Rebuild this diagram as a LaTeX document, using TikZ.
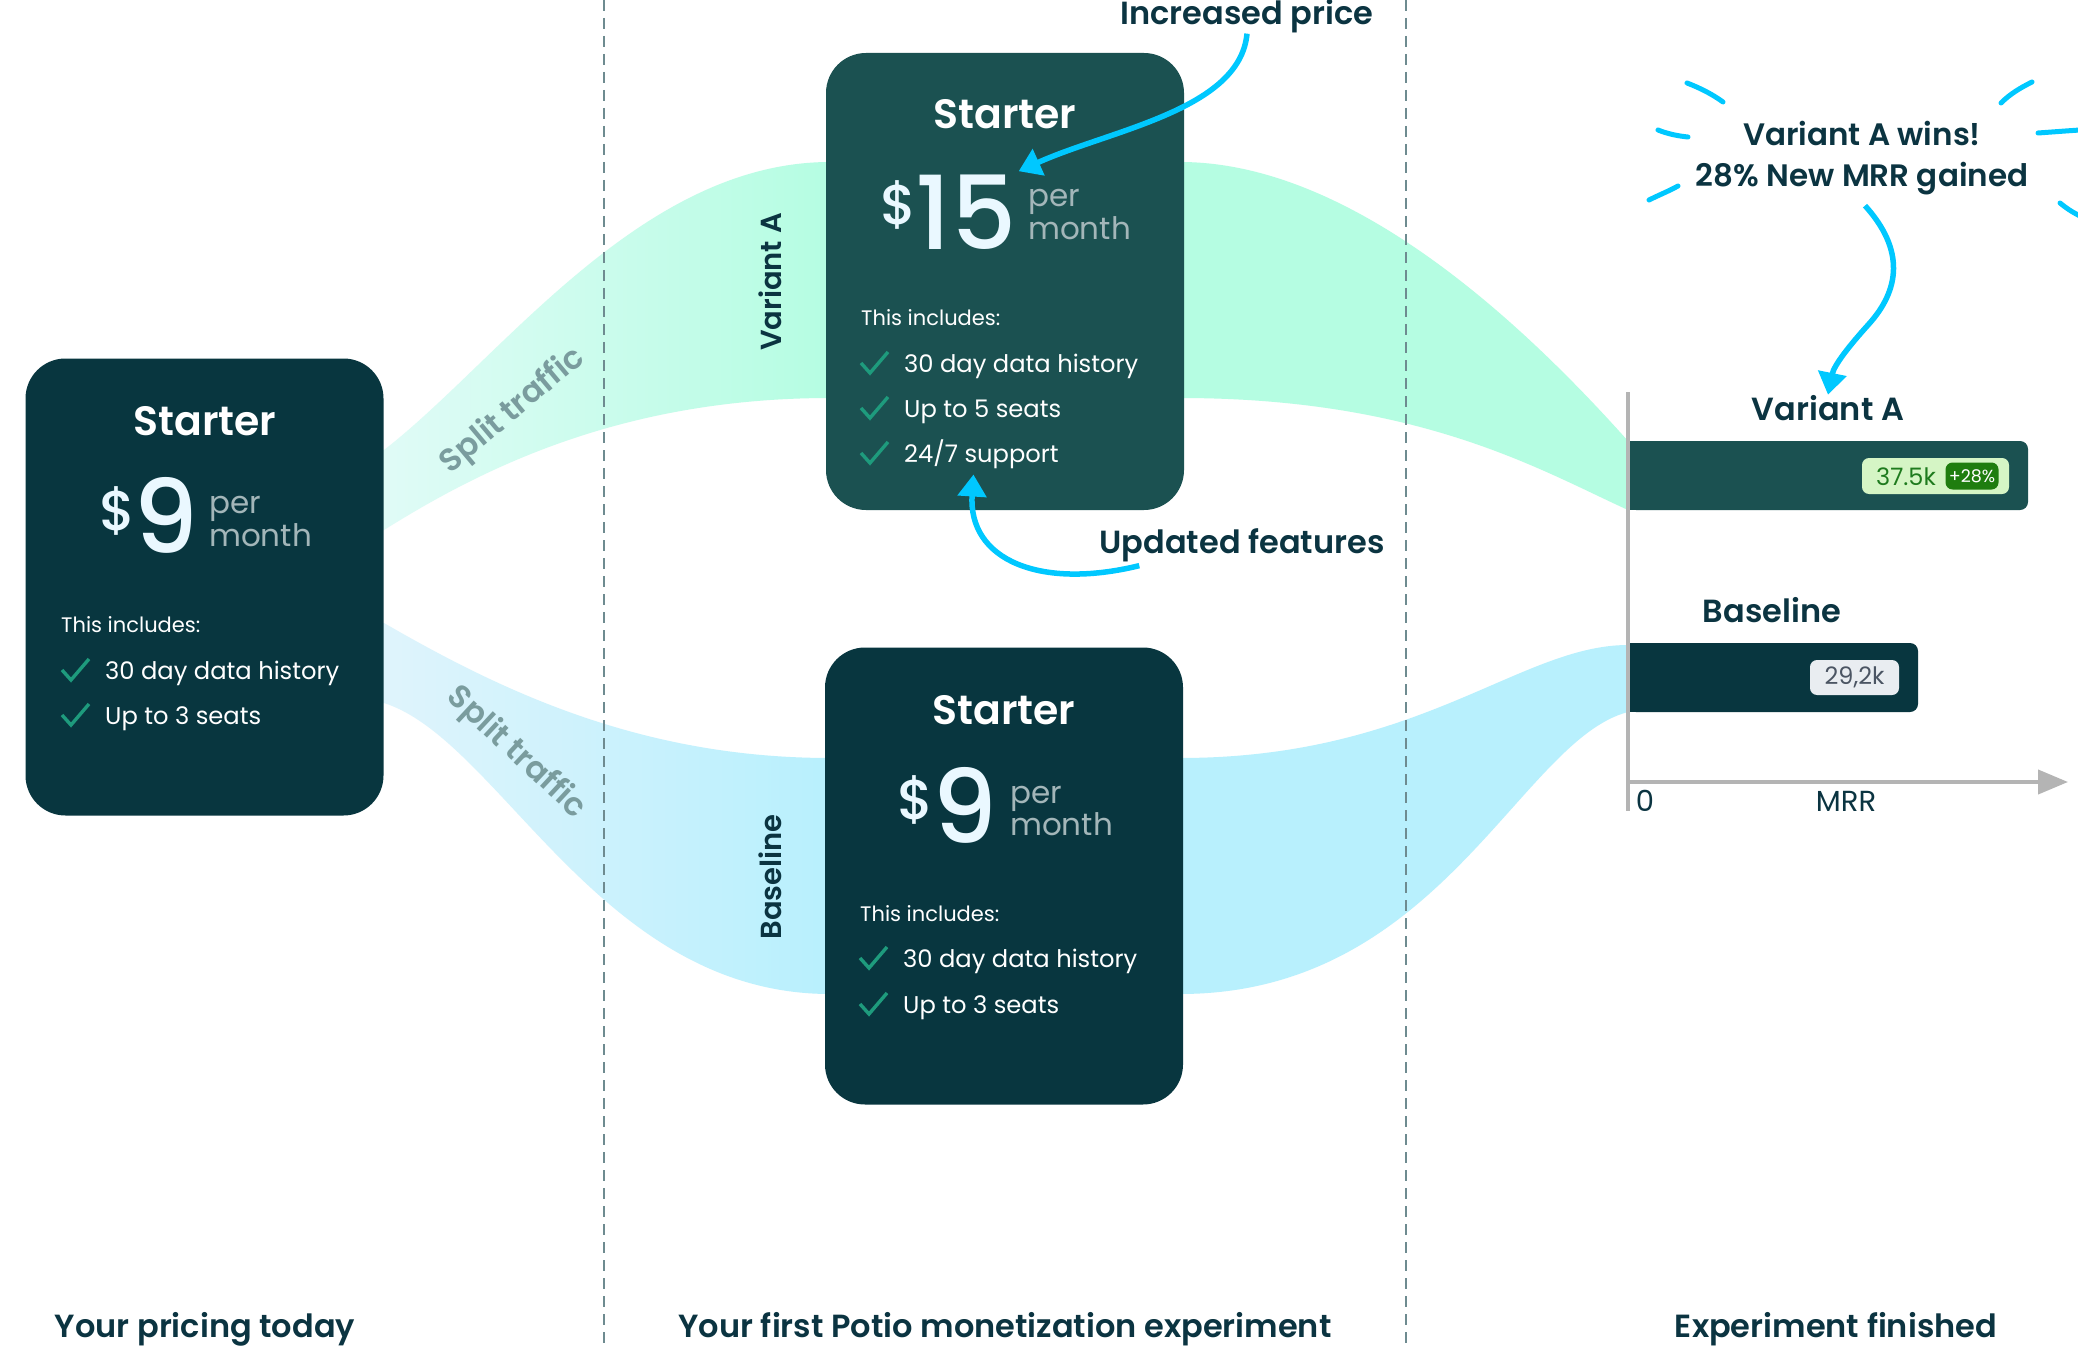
\documentclass[tikz,border=0pt]{standalone}
\usepackage{fontspec}
\setmainfont{Poppins}[BoldFont={* SemiBold}]
\newfontfamily\pricefont{Poppins}[UprightFont={* Medium}]
\usepackage{xcolor}
\usetikzlibrary{arrows.meta,calc}
\definecolor{CardNavy}{HTML}{08363F}
\definecolor{CardTeal}{HTML}{1B5151}
\definecolor{Ink}{HTML}{0B3441}
\definecolor{Mint}{HTML}{B5FDE2}
\definecolor{MintPale}{HTML}{E3FBF8}
\definecolor{Sky}{HTML}{B8F0FD}
\definecolor{SkyPale}{HTML}{E2F4FC}
\definecolor{Cyan}{HTML}{00C8FF}
\definecolor{PerGray}{HTML}{A3B6B9}
\definecolor{NumWhite}{HTML}{EAF8FF}
\definecolor{CheckGreen}{HTML}{1E9B7D}
\definecolor{Divider}{HTML}{6E8B90}
\definecolor{SplitGray}{HTML}{7A9C9E}
\definecolor{AxisGray}{HTML}{B4B4B4}
\definecolor{BadgeGreen}{HTML}{D5F5C5}
\definecolor{BadgeText}{HTML}{1E7B1E}
\definecolor{PillGreen}{HTML}{1F7D0F}
\definecolor{BadgeGray}{HTML}{E9EDF1}
\definecolor{BadgeGrayText}{HTML}{4B5563}
\tikzset{
  card/.style={rounded corners=40pt,minimum width=358pt,minimum height=457pt,inner sep=0pt},
  title/.style={anchor=base,inner sep=0pt,text=white,font=\bfseries\fontsize{41}{48}\selectfont},
  dollar/.style={anchor=base,inner sep=0pt,text=NumWhite,font=\pricefont\fontsize{56}{60}\selectfont},
  amount/.style={anchor=base,inner sep=0pt,text=NumWhite,font=\pricefont\fontsize{102}{100}\selectfont},
  permonth/.style={anchor=base west,inner sep=0pt,text=PerGray,font=\fontsize{31}{32}\selectfont},
  includes/.style={anchor=base west,inner sep=0pt,text=white,font=\fontsize{21}{24}\selectfont},
  feature/.style={anchor=base west,inner sep=0pt,text=white,font=\fontsize{24.2}{30}\selectfont},
  tick/.style={draw=CheckGreen,line width=3.4pt},
  heading/.style={anchor=base,inner sep=0pt,text=Ink,font=\bfseries\fontsize{32}{38}\selectfont},
  sidelabel/.style={rotate=90,inner sep=0pt,text=Ink,font=\bfseries\fontsize{29}{34}\selectfont},
  split/.style={inner sep=0pt,text=SplitGray,font=\bfseries\fontsize{32}{36}\selectfont},
  axislabel/.style={anchor=base,inner sep=0pt,text=Ink,font=\fontsize{29}{34}\selectfont},
  badge/.style={rounded corners=7pt,inner sep=0pt,font=\fontsize{24}{28}\selectfont},
  callout/.style={draw=Cyan,line width=5.5pt,-{Triangle[length=22pt,width=28pt]}},
  burst/.style={draw=Cyan,line width=5pt,line cap=round},
  divider/.style={draw=Divider,line width=2pt,dash pattern=on 11pt off 7pt}
}

\begin{document}
\begin{tikzpicture}[x=1pt,y=-1pt]
  \fill[white] (0,0) rectangle (2078,1348);
  \useasboundingbox (0,0) rectangle (2078,1348);
  % traffic bands
  \shade[left color=MintPale,right color=Mint] (350,450) -- (384,450) .. controls (500,360) and (640,162) .. (830,162)
    -- (830,398) .. controls (620,398) and (480,470) .. (384,530) -- (350,530) -- cycle;
  \shade[left color=SkyPale,right color=Sky] (350,623) -- (384,623) .. controls (500,690) and (640,758) .. (830,758)
    -- (830,994) .. controls (600,994) and (500,740) .. (384,703) -- (350,703) -- cycle;
  \fill[Mint] (1180,162) .. controls (1350,162) and (1520,320) .. (1628,441)
    -- (1628,510) .. controls (1540,470) and (1420,398) .. (1180,398) -- cycle;
  \fill[Sky] (1180,758) .. controls (1420,758) and (1520,645) .. (1628,645)
    -- (1628,712) .. controls (1520,740) and (1440,994) .. (1180,994) -- cycle;
  \draw[divider] (604,0) -- (604,1348);
  \draw[divider] (1406,0) -- (1406,1348);
  \node[split,rotate=40] (splitA) at (513,411) {Split traffic};
  \node[split,rotate=-43] (splitB) at (516,753) {Split traffic};
  \node[sidelabel] (laneA) at (770,282) {Variant A};
  \node[sidelabel] (laneB) at (770,877) {Baseline};

  % today
  \node[card,fill=CardNavy] (today) at (204.5,587) {};
  \node[title] (todayTitle) at (205,435) {Starter};
  \node[dollar] (todayDollar) at (118,530) {\$};
  \node[amount] (todayAmount) at (166,553) {9};
  \node[permonth] (todayPer) at (209,513) {per};
  \node[permonth] (todayMonth) at (209,546) {month};
  \node[includes] (todayIncl) at (61,632) {This includes:};
  \node[feature] (todayF1) at (105,679) {30 day data history};
  \node[feature] (todayF2) at (105,724) {Up to 3 seats};
  \foreach \y in {679,724}
    \draw[tick] (62,\y-9) -- ++(9,10) -- ++(18,-21);

  % variant A
  \node[card,fill=CardTeal] (varA) at (1005,281.5) {};
  \node[title] (varATitle) at (1005,129) {Starter};
  \node[dollar] (varADollar) at (899,225) {\$};
  \node[amount] (varAAmount) at (966,250) {15};
  \node[permonth] (varAPer) at (1028,207) {per};
  \node[permonth] (varAMonth) at (1028,240) {month};
  \node[includes] (varAIncl) at (861,326) {This includes:};
  \node[feature] (varAF1) at (904,372) {30 day data history};
  \node[feature] (varAF2) at (904,417) {Up to 5 seats};
  \node[feature] (varAF3) at (904,462) {24/7 support};
  \foreach \y in {372,417,462}
    \draw[tick] (861,\y-9) -- ++(9,10) -- ++(18,-21);

  % baseline
  \node[card,fill=CardNavy] (base) at (1004,876) {};
  \node[title] (baseTitle) at (1004,724) {Starter};
  \node[dollar] (baseDollar) at (916,819) {\$};
  \node[amount] (baseAmount) at (965,843) {9};
  \node[permonth] (basePer) at (1010,803) {per};
  \node[permonth] (baseMonth) at (1010,835) {month};
  \node[includes] (baseIncl) at (860,921) {This includes:};
  \node[feature] (baseF1) at (903,967) {30 day data history};
  \node[feature] (baseF2) at (903,1013) {Up to 3 seats};
  \foreach \y in {967,1013}
    \draw[tick] (860,\y-9) -- ++(9,10) -- ++(18,-21);

  % callouts
  \node[heading] (incPrice) at (1247,25) {Increased price};
  \node[heading] (updFeat) at (1242,553) {Updated features};
  \draw[callout] (incPrice.south) .. controls (1240,110) and (1110,130) .. ($(varAAmount.north east)+(2,-4)$);
  \draw[callout] ($(updFeat.south west)+(40,4)$) .. controls (1040,590) and (968,560) .. ($(varAF3.south)+(-8,6)$);

  % result chart
  \fill[CardTeal,rounded corners=8pt] (1628,441) rectangle (2028,510);
  \fill[CardTeal] (1628,441) rectangle (1660,510);
  \fill[CardNavy,rounded corners=8pt] (1628,643) rectangle (1918,712);
  \fill[CardNavy] (1628,643) rectangle (1660,712);
  \coordinate (origin) at (1628,782);
  \draw[AxisGray,line width=4pt] (1628,392) -- (1628,811);
  \draw[AxisGray,line width=4pt,-{Triangle[length=30pt,width=24pt]}] (origin) -- (2068,782);
  \node[axislabel] (zero) at (1645,811) {0};
  \node[axislabel] (mrr) at (1846,811) {MRR};
  \node[heading] (labelA) at (1828,420) {Variant A};
  \node[heading] (labelB) at (1772,622) {Baseline};
  \node[badge,fill=BadgeGreen,minimum width=147pt,minimum height=36pt] (badgeA) at (1935.5,476) {};
  \node[anchor=base,inner sep=0pt,text=BadgeText,font=\fontsize{24}{28}\selectfont] (valA) at (1906,485) {37.5k};
  \node[badge,fill=PillGreen,text=white,font=\fontsize{17.5}{18}\selectfont,minimum width=53pt,minimum height=27pt] (gainA) at (1972,476) {+28\%};
  \node[badge,fill=BadgeGray,text=BadgeGrayText,minimum width=89pt,minimum height=35pt] (valB) at (1854.5,677.5) {29,2k};

  % winner
  \node[heading,font=\bfseries\fontsize{31}{36}\selectfont] (winsA) at (1862,146) {Variant A wins!};
  \node[heading,font=\bfseries\fontsize{31}{36}\selectfont] (winsB) at (1862,187) {28\% New MRR gained};
  \draw[callout] ($(winsB.south)+(3,10)$) .. controls (1905,250) and (1900,290) .. (1868,325)
    .. controls (1850,345) and (1834,365) .. (labelA.north);
  \draw[burst] (1687,83) .. controls (1700,88) and (1712,94) .. (1723,102);
  \draw[burst] (1658,130) .. controls (1668,134) and (1678,136) .. (1688,137);
  \draw[burst] (1649,200) .. controls (1659,195) and (1669,191) .. (1678,186);
  \draw[burst] (2001,103) .. controls (2010,94) and (2020,88) .. (2032,82);
  \draw[burst] (2038,133) .. controls (2052,132) and (2065,131) .. (2080,130);
  \draw[burst] (2060,203) .. controls (2066,208) and (2072,212) .. (2080,216);

  % stage captions
  \node[heading] (capToday) at (205,1337) {Your pricing today};
  \node[heading] (capTest) at (1005,1337) {Your first Potio monetization experiment};
  \node[heading] (capDone) at (1836,1337) {Experiment finished};
\end{tikzpicture}
\end{document}
